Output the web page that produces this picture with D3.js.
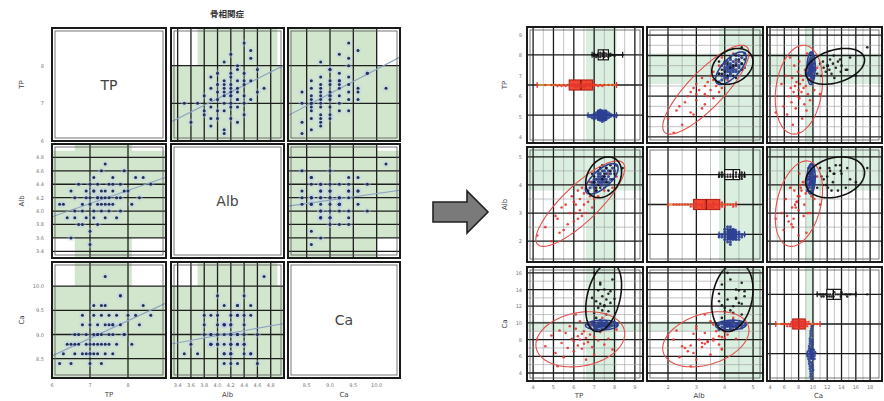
<!DOCTYPE html>
<html>
<head>
<meta charset="utf-8">
<script src="https://cdn.jsdelivr.net/npm/d3@7"></script>
<style>
  body { margin: 0; background: #fff; }
  svg { display: block; font-family: "DejaVu Sans", "Noto Sans CJK JP", sans-serif; }
</style>
</head>
<body>
<div id="chart"></div>
<script>
const vars = ["TP", "Alb", "Ca"];

// ---------- left matrix: one group ----------
const leftTitle = "骨相関症";
const leftTP  = [6.3,6.4,6.5,6.6,6.6,6.7,6.7,6.8,6.8,6.9,6.9,6.9,7.0,7.0,7.0,7.0,7.1,7.1,7.1,7.1,7.2,7.2,7.2,7.2,7.3,7.3,7.3,7.3,7.4,7.4,7.4,7.4,7.5,7.5,7.5,7.6,7.6,7.6,7.7,7.7,7.8,7.8,7.9,8.0,8.1,8.2,8.3,8.6,7.4,7.8,7.1,6.5,6.2,7.0,7.2,7.6,6.8,7.3,7.9,8.4,6.6,7.5];
const leftAlb = [4.1,3.9,4.3,4.0,4.2,3.8,4.4,4.1,4.0,4.3,3.9,4.2,4.1,4.4,3.7,4.2,4.0,4.3,3.9,4.5,4.1,4.2,3.8,4.4,4.0,4.3,4.2,4.6,4.1,3.9,4.3,4.2,4.4,4.0,4.2,4.1,4.3,4.5,4.2,3.9,4.4,4.2,4.6,4.3,4.1,4.5,4.2,4.4,4.7,4.0,4.3,3.6,4.1,3.5,4.2,4.4,3.8,4.1,4.3,4.5,3.9,4.1];
const leftCa  = [8.6,8.8,8.4,8.8,8.6,9.0,8.8,8.6,9.2,8.8,9.0,8.6,9.2,8.8,8.6,8.4,9.0,8.8,9.4,8.6,9.0,8.8,9.2,8.6,8.8,9.4,9.0,8.4,9.2,8.8,9.6,8.6,9.0,9.4,8.8,9.2,9.0,8.6,9.4,8.8,9.8,9.2,9.0,9.4,8.8,9.4,9.2,9.4,10.2,9.8,9.6,8.8,8.4,8.6,9.0,9.2,9.4,9.6,9.0,9.6,9.0,9.2];
const leftDomain  = { TP: [6.0, 9.0], Alb: [3.3, 5.0], Ca: [8.1, 10.5] };
const leftTicks   = { TP: [6, 7, 8], Alb: [3.4, 3.6, 3.8, 4.0, 4.2, 4.4, 4.6, 4.8], Ca: [8.5, 9.0, 9.5, 10.0] };
const leftNormalX = { TP: [6.6, 8.1], Alb: [3.7, 4.9], Ca: [8.0, 10.0] };
const leftNormalY = { TP: [5.9, 8.0], Alb: [3.6, 4.9], Ca: [8.0, 10.0] };

// ---------- right matrix: three groups ----------
const groups = ["red", "blue", "black"];
const blackTP  = [7.0,7.1,7.2,7.2,7.3,7.3,7.4,7.4,7.5,7.5,7.6,7.6,7.7,7.8,7.9,6.9,7.1,7.3,7.5,7.7,7.8,8.0,7.0,8.4];
const blackAlb = [4.3,3.8,4.5,4.0,4.6,3.9,4.2,4.7,3.9,4.4,4.1,4.6,3.8,4.5,4.2,4.4,3.9,4.6,4.3,4.0,4.7,4.4,4.1,4.6];
const blackCa  = [11.2,12.6,13.9,11.8,12.3,14.6,11.5,13.2,12.1,14.0,12.8,11.0,13.5,12.4,15.2,13.0,10.6,14.8,12.0,11.4,13.8,12.9,16.0,17.6];
const redTP  = [4.6,4.9,5.1,5.3,5.4,5.5,5.6,5.7,5.8,5.9,6.0,6.0,6.1,6.2,6.2,6.3,6.3,6.4,6.4,6.5,6.5,6.6,6.6,6.7,6.8,6.8,6.9,7.0,7.0,7.1,7.2,7.3,7.4,7.5,7.7,7.9,8.1,4.2,6.1,5.2];
const redAlb = [2.5,2.0,2.9,2.3,3.2,2.4,3.3,2.6,3.0,3.6,2.7,3.4,3.0,3.8,2.8,3.5,3.1,3.9,2.9,3.3,3.7,3.0,4.0,3.4,3.6,4.1,3.2,3.9,3.5,4.2,3.6,4.0,4.3,3.8,4.4,3.9,4.3,2.2,3.3,2.8];
const redCa  = [7.2,8.5,6.4,9.1,7.6,5.9,8.8,7.0,9.6,8.1,6.6,7.8,9.3,8.4,7.3,10.2,8.0,6.9,8.7,7.5,9.0,5.6,8.2,7.7,9.8,8.6,7.1,8.3,6.2,9.4,7.9,8.9,10.6,7.4,8.1,6.8,9.2,8.0,11.0,4.8];
const blueTP  = [6.8,6.9,7.0,7.0,7.1,7.1,7.2,7.2,7.2,7.3,7.3,7.3,7.4,7.4,7.4,7.5,7.5,7.5,7.6,7.6,7.7,7.7,7.8,7.9,8.0,6.7,7.1,7.3,7.6,7.8,6.9,7.4,7.2,7.5,7.0,7.6,8.1,7.3,7.4,7.7];
const blueAlb = [3.9,4.0,4.1,3.9,4.2,4.0,4.1,4.3,4.2,4.0,4.2,4.4,4.1,4.3,4.2,4.3,4.5,4.1,4.4,4.2,4.5,4.3,4.4,4.6,4.5,3.8,3.8,4.3,4.6,4.2,4.1,4.0,4.4,4.2,4.2,4.0,4.7,4.1,4.5,4.1];
const blueCa  = [9.5,9.8,9.6,9.9,9.7,9.4,10.0,9.6,9.8,9.5,9.9,9.7,9.6,10.1,9.3,9.8,9.7,9.9,9.6,10.2,9.8,9.5,9.9,9.7,10.0,9.8,9.2,10.3,9.4,9.6,10.1,9.7,9.5,9.6,9.8,9.9,9.7,9.8,9.9,9.7];
const rightDomainX = { TP: [3.7, 9.4], Alb: [1.26, 5.35], Ca: [3.58, 19.66] };
const rightDomainY = { TP: [3.7, 9.4], Alb: [1.26, 5.35], Ca: [3.04, 16.7] };
const rightTicksX  = { TP: [4, 5, 6, 7, 8, 9], Alb: [2, 3, 4, 5], Ca: [4, 6, 8, 10, 12, 14, 16, 18] };
const rightTicksY  = { TP: [4, 5, 6, 7, 8, 9], Alb: [2, 3, 4, 5], Ca: [4, 6, 8, 10, 12, 14, 16] };
const rightNormal  = { TP: [6.6, 8.1], Alb: [3.8, 5.4], Ca: [9.0, 10.2] };

const rightData = {
  black: { TP: blackTP, Alb: blackAlb, Ca: blackCa },
  red:   { TP: redTP,   Alb: redAlb,   Ca: redCa },
  blue:  { TP: blueTP,  Alb: blueAlb,  Ca: blueCa }
};
const leftData = { TP: leftTP, Alb: leftAlb, Ca: leftCa };

// ---------- styling ----------
const GREEN_L = "#d2e5cd";
const GREEN_R = "#dbefe1";
const colors = { black: "#141414", red: "#e3342f", blue: "#2c3f91" };
const ellipseColors = { black: "#111", red: "#e0504c", blue: "#2c3f91" };
const boxFill = { black: "#ffffff", red: "#ef4a30", blue: "#3450a3" };
const boxPos = { black: 0.24, red: 0.5, blue: 0.76 }; // vertical slot in diagonal panels

const svg = d3.select("#chart").append("svg")
  .attr("width", 884)
  .attr("height", 401);
const defs = svg.append("defs");
let clipCount = 0;

function panel(x0, x1, y0, y1) {
  const id = "clip" + (clipCount++);
  defs.append("clipPath").attr("id", id)
    .append("rect")
    .attr("x", x0).attr("y", y0)
    .attr("width", x1 - x0).attr("height", y1 - y0);
  return svg.append("g").attr("clip-path", `url(#${id})`);
}

function frame(x0, x1, y0, y1) {
  svg.append("rect")
    .attr("x", x0).attr("y", y0)
    .attr("width", x1 - x0).attr("height", y1 - y0)
    .attr("fill", "none").attr("stroke", "#1a1a1a").attr("stroke-width", 2);
  svg.append("rect")
    .attr("x", x0 + 3).attr("y", y0 + 3)
    .attr("width", x1 - x0 - 6).attr("height", y1 - y0 - 6)
    .attr("fill", "none").attr("stroke", "#555").attr("stroke-width", 0.8);
}

// ===================== LEFT MATRIX =====================
const L_COLS = [[52, 166], [171, 284], [288, 400]];
const L_ROWS = [[28, 141], [144, 258], [262, 378]];

const lx = vars.map((v, i) => d3.scaleLinear().domain(leftDomain[v]).range(L_COLS[i]));
const ly = vars.map((v, i) => d3.scaleLinear().domain(leftDomain[v]).range([L_ROWS[i][1], L_ROWS[i][0]]));

svg.append("text")
  .attr("x", 227).attr("y", 17)
  .attr("text-anchor", "middle")
  .style("font-size", "8.5px")
  .style("font-weight", "bold")
  .attr("fill", "#333")
  .text(leftTitle);

vars.forEach((vy, r) => {
  vars.forEach((vx, c) => {
    const [x0, x1] = L_COLS[c];
    const [y0, y1] = L_ROWS[r];
    const g = panel(x0, x1, y0, y1);

    if (r === c) {
      g.append("text")
        .attr("x", (x0 + x1) / 2).attr("y", (y0 + y1) / 2 + 5)
        .attr("text-anchor", "middle")
        .style("font-size", "14px")
        .attr("fill", "#444")
        .text(vx);
      frame(x0, x1, y0, y1);
      return;
    }

    const xs = lx[c], ys = ly[r];

    // reference ranges
    g.append("rect")
      .attr("x", xs(leftNormalX[vx][0])).attr("y", y0)
      .attr("width", xs(leftNormalX[vx][1]) - xs(leftNormalX[vx][0]))
      .attr("height", y1 - y0)
      .attr("fill", GREEN_L);
    g.append("rect")
      .attr("x", x0).attr("y", ys(leftNormalY[vy][1]))
      .attr("width", x1 - x0)
      .attr("height", ys(leftNormalY[vy][0]) - ys(leftNormalY[vy][1]))
      .attr("fill", GREEN_L);

    // grid
    g.selectAll(".vg").data(leftTicks[vx]).enter().append("line")
      .attr("x1", d => xs(d)).attr("x2", d => xs(d))
      .attr("y1", y0).attr("y2", y1)
      .attr("stroke", "#1e1e1e").attr("stroke-width", 1.3);
    g.selectAll(".hg").data(leftTicks[vy]).enter().append("line")
      .attr("y1", d => ys(d)).attr("y2", d => ys(d))
      .attr("x1", x0).attr("x2", x1)
      .attr("stroke", "#1e1e1e").attr("stroke-width", 1.3);

    const pts = leftData[vx].map((v, i) => [v, leftData[vy][i]]);

    // soft halo to mimic density shading
    g.selectAll(".halo").data(pts).enter().append("circle")
      .attr("cx", d => xs(d[0])).attr("cy", d => ys(d[1]))
      .attr("r", 3.6)
      .attr("fill", "#bfcfea").attr("opacity", 0.35);

    // regression line
    const mx = d3.mean(pts, d => d[0]), my = d3.mean(pts, d => d[1]);
    const sxy = d3.sum(pts, d => (d[0] - mx) * (d[1] - my));
    const sxx = d3.sum(pts, d => (d[0] - mx) ** 2);
    const b = sxy / sxx, a = my - b * mx;
    const dom = xs.domain();
    g.append("line")
      .attr("x1", xs(dom[0])).attr("y1", ys(a + b * dom[0]))
      .attr("x2", xs(dom[1])).attr("y2", ys(a + b * dom[1]))
      .attr("stroke", "#8aa3c2").attr("stroke-width", 1.1);

    g.selectAll(".pt").data(pts).enter().append("circle")
      .attr("cx", d => xs(d[0])).attr("cy", d => ys(d[1]))
      .attr("r", 1.5)
      .attr("fill", "#22305e");

    frame(x0, x1, y0, y1);
  });
});

// left axes labels
vars.forEach((v, i) => {
  svg.selectAll(null).data(leftTicks[v]).enter().append("text")
    .attr("x", d => lx[i](d)).attr("y", 387)
    .attr("text-anchor", "middle")
    .style("font-size", "5px").attr("fill", "#777")
    .text(d => d3.format(v === "TP" ? "d" : ".1f")(d));
  svg.selectAll(null).data(leftTicks[v]).enter().append("text")
    .attr("x", 44).attr("y", d => ly[i](d) + 2)
    .attr("text-anchor", "end")
    .style("font-size", "5px").attr("fill", "#777")
    .text(d => d3.format(v === "TP" ? "d" : ".1f")(d));
  svg.append("text")
    .attr("x", (L_COLS[i][0] + L_COLS[i][1]) / 2).attr("y", 397)
    .attr("text-anchor", "middle")
    .style("font-size", "7px").attr("fill", "#444")
    .text(v);
  const cy = (L_ROWS[i][0] + L_ROWS[i][1]) / 2;
  svg.append("text")
    .attr("transform", `translate(24,${cy}) rotate(-90)`)
    .attr("text-anchor", "middle")
    .style("font-size", "7px").attr("fill", "#444")
    .text(v);
});

// ===================== ARROW =====================
svg.append("path")
  .attr("d", "M433,202 L467,202 L467,191 L488,212 L467,233 L467,222 L433,222 Z")
  .attr("fill", "#7a7a7a")
  .attr("stroke", "#222")
  .attr("stroke-width", 1.6)
  .attr("stroke-linejoin", "miter");

// ===================== RIGHT MATRIX =====================
const R_COLS = [[527, 643], [647, 763], [767, 882]];
const R_ROWS = [[27, 143], [147, 262], [267, 381]];

const rx = vars.map((v, i) => d3.scaleLinear().domain(rightDomainX[v]).range(R_COLS[i]));
const ry = vars.map((v, i) => d3.scaleLinear().domain(rightDomainY[v]).range([R_ROWS[i][1], R_ROWS[i][0]]));

function midTicks(t) {
  return t.slice(1).map((d, i) => (d + t[i]) / 2);
}

// 95% normal-theory ellipse from a group's values
function ellipsePath(xv, yv, xs, ys) {
  const n = xv.length;
  const mx = d3.mean(xv), my = d3.mean(yv);
  const sxx = d3.sum(xv, d => (d - mx) ** 2) / (n - 1);
  const syy = d3.sum(yv, d => (d - my) ** 2) / (n - 1);
  const sxy = d3.sum(xv.map((d, i) => (d - mx) * (yv[i] - my))) / (n - 1);
  const tr = sxx + syy, det = sxx * syy - sxy * sxy;
  const l1 = tr / 2 + Math.sqrt(tr * tr / 4 - det);
  const l2 = tr / 2 - Math.sqrt(tr * tr / 4 - det);
  const ang = Math.abs(sxy) < 1e-12 ? (sxx >= syy ? 0 : Math.PI / 2) : Math.atan2(l1 - sxx, sxy);
  const k = Math.sqrt(5.991);
  const a = k * Math.sqrt(l1), b = k * Math.sqrt(Math.max(l2, 0));
  const pts = d3.range(0, 2 * Math.PI, Math.PI / 60).map(t => {
    const ex = a * Math.cos(t), ey = b * Math.sin(t);
    return [
      xs(mx + ex * Math.cos(ang) - ey * Math.sin(ang)),
      ys(my + ex * Math.sin(ang) + ey * Math.cos(ang))
    ];
  });
  return d3.line().curve(d3.curveLinearClosed)(pts);
}

// simple beeswarm so the diagonal points don't sit on top of each other
function swarm(vals, xs, yc, r) {
  const placed = [];
  const order = d3.range(vals.length).sort((i, j) => d3.ascending(vals[i], vals[j]));
  const out = new Array(vals.length);
  for (const i of order) {
    const x = xs(vals[i]);
    for (let k = 0; k < 400; k++) {
      const off = (k % 2 ? 1 : -1) * Math.ceil(k / 2) * r * 0.9;
      const y = yc + off;
      if (placed.every(p => (p[0] - x) ** 2 + (p[1] - y) ** 2 >= (r * 1.7) ** 2)) {
        placed.push([x, y]);
        out[i] = [x, y];
        break;
      }
    }
  }
  return out;
}

vars.forEach((vy, r) => {
  vars.forEach((vx, c) => {
    const [x0, x1] = R_COLS[c];
    const [y0, y1] = R_ROWS[r];
    const g = panel(x0, x1, y0, y1);
    const xs = rx[c], ys = ry[r];

    // reference ranges
    g.append("rect")
      .attr("x", xs(rightNormal[vx][0])).attr("y", y0)
      .attr("width", xs(rightNormal[vx][1]) - xs(rightNormal[vx][0]))
      .attr("height", y1 - y0)
      .attr("fill", GREEN_R);
    if (r !== c) {
      g.append("rect")
        .attr("x", x0).attr("y", ys(rightNormal[vy][1]))
        .attr("width", x1 - x0)
        .attr("height", ys(rightNormal[vy][0]) - ys(rightNormal[vy][1]))
        .attr("fill", GREEN_R);
    }

    // grid: minor then major
    g.selectAll(".vm").data(midTicks(rightTicksX[vx])).enter().append("line")
      .attr("x1", d => xs(d)).attr("x2", d => xs(d))
      .attr("y1", y0).attr("y2", y1)
      .attr("stroke", "#9a9a9a").attr("stroke-width", 0.6);
    g.selectAll(".vg").data(rightTicksX[vx]).enter().append("line")
      .attr("x1", d => xs(d)).attr("x2", d => xs(d))
      .attr("y1", y0).attr("y2", y1)
      .attr("stroke", "#1a1a1a").attr("stroke-width", 1.3);

    if (r === c) {
      const h = y1 - y0;
      groups.forEach(gr => {
        g.append("line")
          .attr("x1", x0).attr("x2", x1)
          .attr("y1", y0 + boxPos[gr] * h).attr("y2", y0 + boxPos[gr] * h)
          .attr("stroke", "#1a1a1a").attr("stroke-width", 1.4);
      });
      ["black", "red", "blue"].forEach(gr => {
        const vals = rightData[gr][vx].slice().sort(d3.ascending);
        const yc = y0 + boxPos[gr] * h;
        const q1 = d3.quantile(vals, 0.25), q2 = d3.quantile(vals, 0.5), q3 = d3.quantile(vals, 0.75);
        const iqr = q3 - q1;
        const lo = d3.min(vals.filter(v => v >= q1 - 1.5 * iqr));
        const hi = d3.max(vals.filter(v => v <= q3 + 1.5 * iqr));
        g.append("line")
          .attr("x1", xs(lo)).attr("x2", xs(hi))
          .attr("y1", yc).attr("y2", yc)
          .attr("stroke", gr === "red" ? "#f0a030" : colors[gr]).attr("stroke-width", 1.6);
        [lo, hi].forEach(v => g.append("line")
          .attr("x1", xs(v)).attr("x2", xs(v))
          .attr("y1", yc - 3).attr("y2", yc + 3)
          .attr("stroke", colors[gr]).attr("stroke-width", 1.2));
        g.append("rect")
          .attr("x", xs(q1)).attr("y", yc - 5)
          .attr("width", Math.max(xs(q3) - xs(q1), 2)).attr("height", 10)
          .attr("fill", boxFill[gr])
          .attr("stroke", gr === "red" ? "#b8231b" : colors[gr]).attr("stroke-width", 1.2);
        g.append("line")
          .attr("x1", xs(q2)).attr("x2", xs(q2))
          .attr("y1", yc - 5).attr("y2", yc + 5)
          .attr("stroke", gr === "red" ? "#7a1510" : colors[gr]).attr("stroke-width", 1.4);
        const sp = swarm(rightData[gr][vx], xs, yc, gr === "blue" ? 1.4 : 1.2);
        g.selectAll(null).data(sp).enter().append("circle")
          .attr("cx", d => d[0]).attr("cy", d => d[1])
          .attr("r", gr === "blue" ? 1.5 : 1.2)
          .attr("fill", colors[gr]).attr("opacity", 0.9);
      });
    } else {
      g.selectAll(".hm").data(midTicks(rightTicksY[vy])).enter().append("line")
        .attr("y1", d => ys(d)).attr("y2", d => ys(d))
        .attr("x1", x0).attr("x2", x1)
        .attr("stroke", "#9a9a9a").attr("stroke-width", 0.6);
      g.selectAll(".hg").data(rightTicksY[vy]).enter().append("line")
        .attr("y1", d => ys(d)).attr("y2", d => ys(d))
        .attr("x1", x0).attr("x2", x1)
        .attr("stroke", "#1a1a1a").attr("stroke-width", 1.3);

      groups.forEach(gr => {
        const xv = rightData[gr][vx], yv = rightData[gr][vy];
        g.selectAll(null).data(xv.map((v, i) => [v, yv[i]])).enter().append("circle")
          .attr("cx", d => xs(d[0])).attr("cy", d => ys(d[1]))
          .attr("r", gr === "blue" ? 1.6 : 1.3)
          .attr("fill", colors[gr]).attr("opacity", 0.9);
      });
      groups.forEach(gr => {
        g.append("path")
          .attr("d", ellipsePath(rightData[gr][vx], rightData[gr][vy], xs, ys))
          .attr("fill", "none")
          .attr("stroke", ellipseColors[gr])
          .attr("stroke-width", gr === "red" ? 1.1 : 1.6);
      });
    }
    frame(x0, x1, y0, y1);
  });
});

// right axes labels
vars.forEach((v, i) => {
  svg.selectAll(null).data(rightTicksX[v]).enter().append("text")
    .attr("x", d => rx[i](d)).attr("y", 389)
    .attr("text-anchor", "middle")
    .style("font-size", "5px").attr("fill", "#777")
    .text(d => d);
  svg.selectAll(null).data(rightTicksY[v]).enter().append("text")
    .attr("x", 522).attr("y", d => ry[i](d) + 2)
    .attr("text-anchor", "end")
    .style("font-size", "5px").attr("fill", "#777")
    .text(d => d);
  svg.append("text")
    .attr("x", (R_COLS[i][0] + R_COLS[i][1]) / 2 - 6).attr("y", 398)
    .attr("text-anchor", "middle")
    .style("font-size", "7px").attr("fill", "#444")
    .text(v);
  const cy = (R_ROWS[i][0] + R_ROWS[i][1]) / 2;
  svg.append("text")
    .attr("transform", `translate(507,${cy}) rotate(-90)`)
    .attr("text-anchor", "middle")
    .style("font-size", "7px").attr("fill", "#444")
    .text(v);
});
</script>
</body>
</html>
